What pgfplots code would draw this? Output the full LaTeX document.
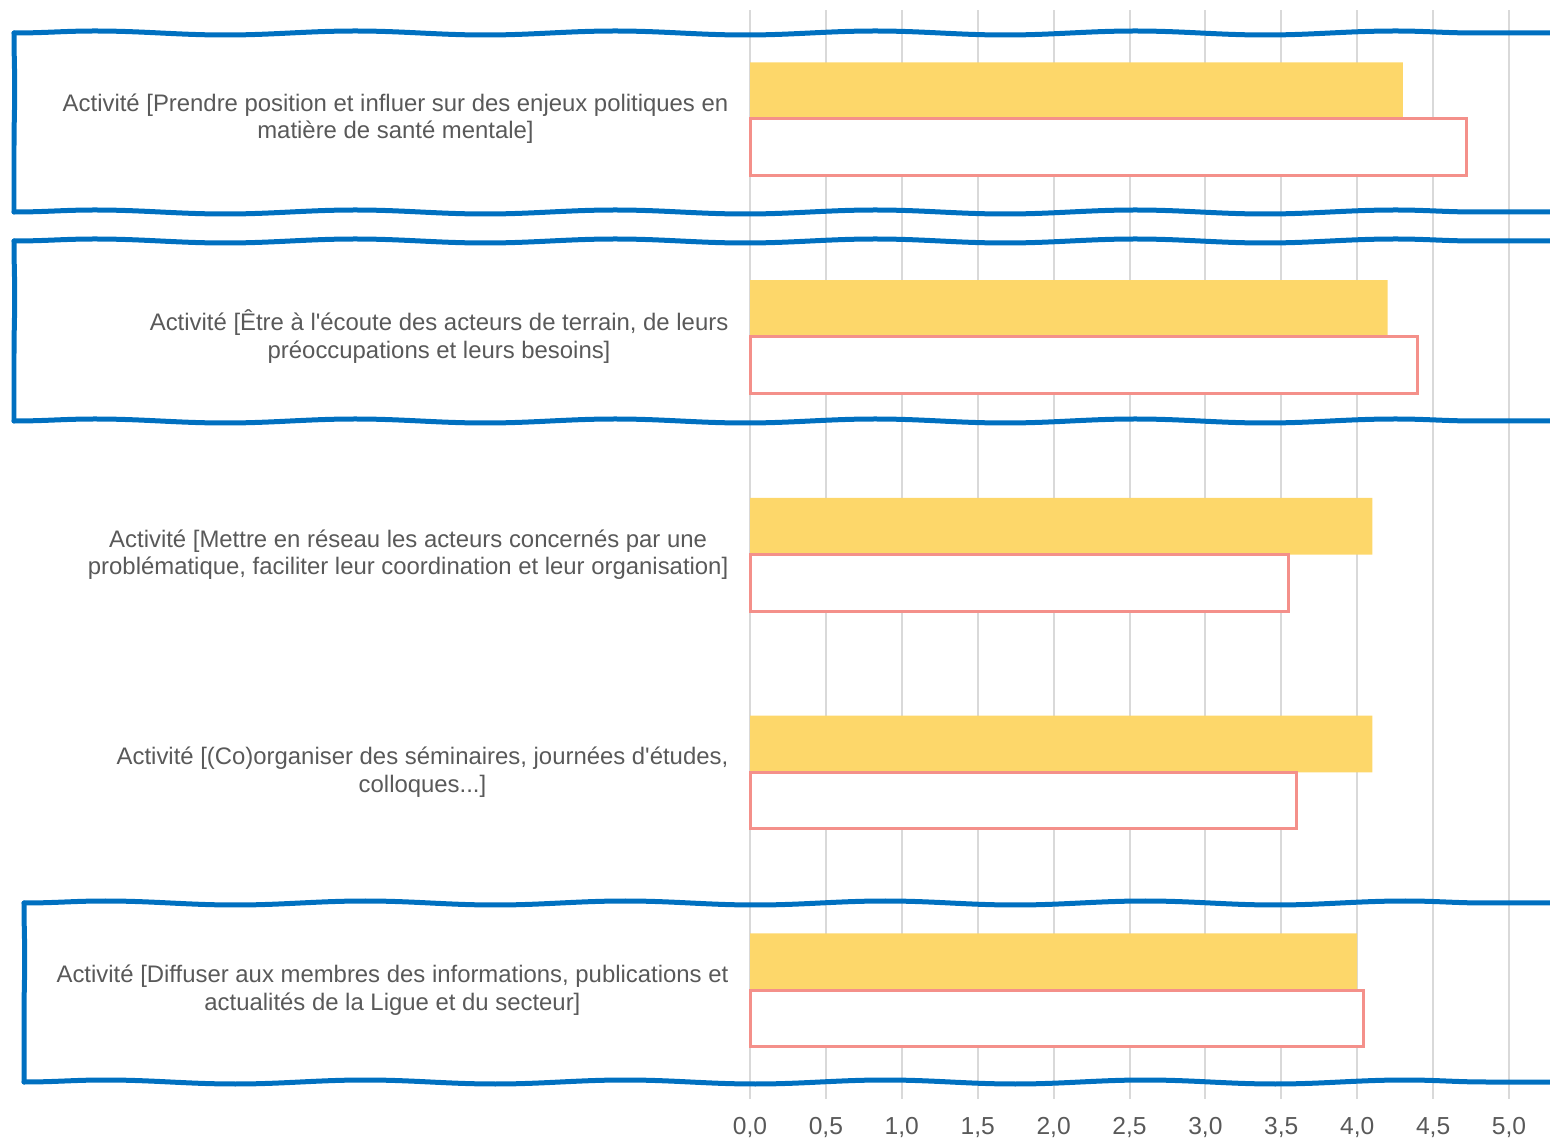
\documentclass[border=0pt]{standalone}
\usepackage{pgfplots}
\pgfplotsset{compat=1.18}
\usepackage{fontspec}
\setmainfont{Liberation Sans}[Ligatures=TeXOff]
\usetikzlibrary{decorations.pathmorphing}

\definecolor{barYellow}{HTML}{FDD76A}
\definecolor{barPink}{HTML}{F4908A}
\definecolor{gridGray}{HTML}{D9D9D9}
\definecolor{txtGray}{HTML}{595959}
\definecolor{markBlue}{HTML}{0070C0}

\begin{document}
\begin{tikzpicture}[x=1mm,y=1mm]
\useasboundingbox (0,0) rectangle (155,114);
\begin{axis}[
    at={(75mm,4.1mm)}, anchor=south west,
    scale only axis,
    width=80mm, height=108.9mm,
    xbar, bar width=0.26,
    xmin=0, xmax=5.27,
    ymin=-0.5, ymax=4.5,
    y dir=reverse,
    axis line style={draw=none},
    major tick length=0pt,
    xtick={0,0.5,...,5},
    ytick={0,1,2,3,4},
    yticklabels={
      {Activité [Prendre position et influer sur des enjeux politiques en\\matière de santé mentale]},
      {Activité [Être à l'écoute des acteurs de terrain, de leurs\\préoccupations et leurs besoins]},
      {Activité [Mettre en réseau les acteurs concernés par une\\problématique, faciliter leur coordination et leur organisation]},
      {Activité [(Co)organiser des séminaires, journées d'études,\\colloques.{}.{}.]},
      {Activité [Diffuser aux membres des informations, publications et\\actualités de la Ligue et du secteur]}},
    yticklabel style={align=center, anchor=east, inner sep=0pt, xshift=-2.1mm,
      font=\fontsize{6.8}{7.8}\selectfont, text=txtGray},
    xticklabel style={font=\fontsize{7}{8}\selectfont, text=txtGray, yshift=-0.6mm},
    /pgf/number format/.cd, fixed, fixed zerofill, precision=1, use comma, assume math mode=true,
    /pgfplots/.cd,
    xmajorgrids, grid style={gridGray, line width=0.2mm},
    clip=false,
]
% first series (filled)
\addplot[fill=barYellow, draw=none, bar shift=-0.13] coordinates {
    (4.30,0) (4.20,1) (4.10,2) (4.10,3) (4.00,4)};
% second series (outline)
\addplot[fill=white, draw=barPink, line width=0.3mm, bar shift=0.13] coordinates {
    (4.72,0) (4.40,1) (3.55,2) (3.60,3) (4.04,4)};
\end{axis}

% hand drawn highlight boxes, one side at a time
\begin{scope}[markBlue, line width=0.5mm, line cap=round,
    wavy/.style={decorate, decoration={snake, segment length=26mm, amplitude=0.2mm}},
    wavyv/.style={decorate, decoration={snake, segment length=18mm, amplitude=0.07mm}}]
  \draw[wavy]  (1.4,110.7) -- (158,110.7);
  \draw[wavyv] (1.4,110.7) -- (1.4,92.8);
  \draw[wavy]  (1.4,92.8) -- (158,92.8);
  \draw[wavy]  (1.4,89.9) -- (158,89.9);
  \draw[wavyv] (1.4,89.9) -- (1.4,71.9);
  \draw[wavy]  (1.4,71.9) -- (158,71.9);
  \draw[wavy]  (2.4,23.7) -- (158,23.7);
  \draw[wavyv] (2.4,23.7) -- (2.4,5.8);
  \draw[wavy]  (2.4,5.8) -- (158,5.8);
\end{scope}
\end{tikzpicture}
\end{document}
